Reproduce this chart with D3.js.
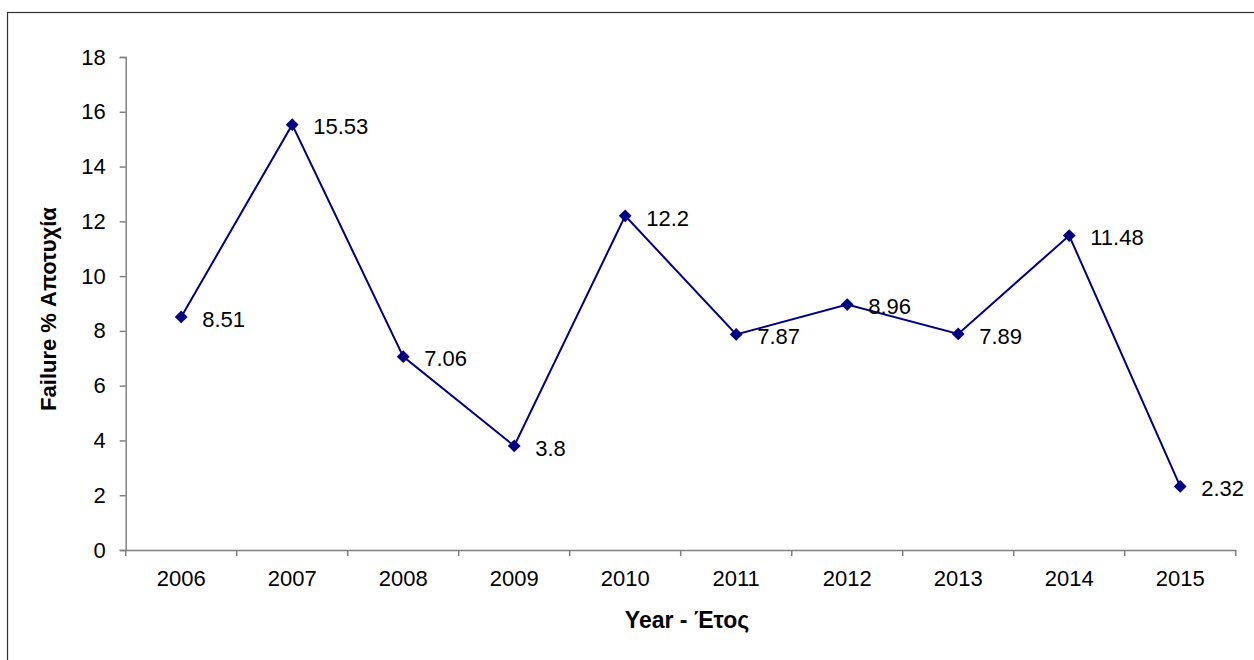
<!DOCTYPE html>
<html>
<head>
<meta charset="utf-8">
<script src="https://d3js.org/d3.v7.min.js"></script>
<style>
    body { margin: 0; background: #fff; }
    svg { font-family: "Liberation Sans", Arial, sans-serif; }
    .axis path, .axis line { stroke: #808080; stroke-width: 1.5; }
    .axis text { fill: #000; font-size: 22px; }
</style>
</head>
<body>
<svg width="1254" height="660"></svg>
<script>
    // data
    var years = ["2006", "2007", "2008", "2009", "2010", "2011", "2012", "2013", "2014", "2015"];
    var failure = [8.51, 15.53, 7.06, 3.8, 12.2, 7.87, 8.96, 7.89, 11.48, 2.32];
    var yTicks = [0, 2, 4, 6, 8, 10, 12, 14, 16, 18];

    var svg = d3.select("svg"),
        margin = { top: 57, right: 18.3, bottom: 110, left: 125.7 },
        width = +svg.attr("width") - margin.left - margin.right,
        height = +svg.attr("height") - margin.top - margin.bottom;

    // outer frame (runs off the right and bottom edges)
    svg.append("rect")
        .attr("x", 7.5).attr("y", 12.5)
        .attr("width", 1260).attr("height", 660)
        .attr("fill", "none")
        .attr("stroke", "#333")
        .attr("stroke-width", 1.2);

    var g = svg.append("g").attr("transform", "translate(" + margin.left + "," + margin.top + ")");

    var x = d3.scaleBand().domain(years).range([0, width]);
    var y = d3.scaleLinear().domain([0, 18]).range([height, 0]);

    // y axis
    g.append("g")
        .attr("class", "axis")
        .call(d3.axisLeft(y).tickValues(yTicks).tickSizeOuter(0).tickSize(6).tickPadding(14));

    // x axis, labels in the middle of each category
    var xa = g.append("g")
        .attr("class", "axis")
        .attr("transform", "translate(0," + height + ")")
        .call(d3.axisBottom(x).tickSize(0).tickSizeOuter(0).tickPadding(20));

    // tick marks between categories
    var bounds = years.map(function (d) { return x(d); }).concat([x(years[years.length - 1]) + x.bandwidth()]);
    xa.selectAll(".bound")
        .data(bounds)
        .enter().append("line")
        .attr("class", "bound")
        .attr("x1", function (d) { return d; })
        .attr("x2", function (d) { return d; })
        .attr("y1", 0)
        .attr("y2", 6);

    var cx = function (d, i) { return x(years[i]) + x.bandwidth() / 2; };

    var line = d3.line()
        .x(function (d, i) { return x(years[i]) + x.bandwidth() / 2; })
        .y(function (d) { return y(d); });

    g.append("path")
        .datum(failure)
        .attr("fill", "none")
        .attr("stroke", "#000080")
        .attr("stroke-width", 2)
        .attr("d", line);

    g.selectAll(".marker")
        .data(failure)
        .enter().append("path")
        .attr("class", "marker")
        .attr("d", d3.symbol(d3.symbolSquare, 82))
        .attr("fill", "#000080")
        .attr("transform", function (d, i) {
            return "translate(" + cx(d, i) + "," + y(d) + ") rotate(45)";
        });

    g.selectAll(".lbl")
        .data(failure)
        .enter().append("text")
        .attr("class", "lbl")
        .attr("x", function (d, i) { return cx(d, i) + 21; })
        .attr("y", function (d) { return y(d) + 2; })
        .attr("dy", "0.35em")
        .attr("font-size", "22px")
        .text(function (d) { return d; });

    // axis titles
    svg.append("text")
        .attr("transform", "translate(56,309) rotate(-90)")
        .attr("text-anchor", "middle")
        .attr("font-size", "22px")
        .attr("font-weight", "bold")
        .text("Failure % Αποτυχία");

    svg.append("text")
        .attr("x", 687)
        .attr("y", 628)
        .attr("text-anchor", "middle")
        .attr("font-size", "23px")
        .attr("font-weight", "bold")
        .text("Year - Έτος");
</script>
</body>
</html>
